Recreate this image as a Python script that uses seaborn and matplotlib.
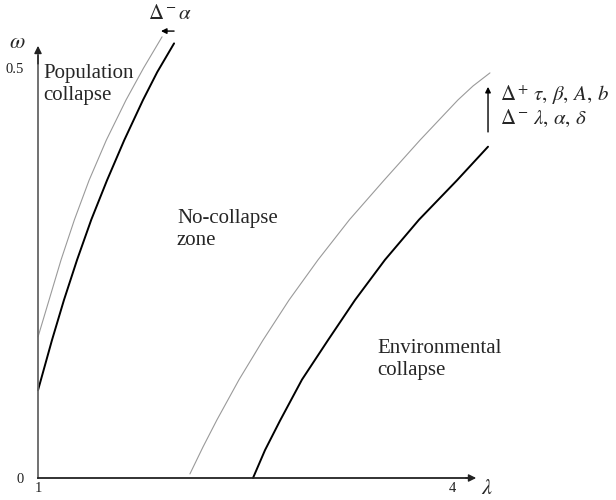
import matplotlib
matplotlib.use("Agg")
import matplotlib.pyplot as plt
import pandas as pd
import seaborn as sns

# Collapse thresholds in the (lambda, omega) plane.
# Shifted curves (thin grey) show where each boundary moves under parameter changes.
pop_shift_lam = [1.0, 1.080, 1.167, 1.264, 1.370, 1.495, 1.638, 1.765, 1.899]
pop_shift_omega = [0.172, 0.217, 0.266, 0.315, 0.363, 0.412, 0.461, 0.500, 0.538]

pop_lam = [1.0, 1.101, 1.188, 1.283, 1.386, 1.500, 1.625, 1.761, 1.864, 1.986]
pop_omega = [0.107, 0.168, 0.217, 0.266, 0.315, 0.363, 0.412, 0.461, 0.495, 0.530]

env_shift_lam = [2.101, 2.196, 2.297, 2.457, 2.630, 2.819, 3.029, 3.257, 3.507,
                 3.768, 4.043, 4.152, 4.275]
env_shift_omega = [0.005, 0.038, 0.071, 0.120, 0.168, 0.217, 0.266, 0.315, 0.363,
                   0.412, 0.461, 0.478, 0.494]

env_lam = [2.558, 2.645, 2.754, 2.913, 3.101, 3.297, 3.514, 3.761, 4.036, 4.261]
env_omega = [0.0, 0.034, 0.070, 0.120, 0.168, 0.217, 0.266, 0.315, 0.363, 0.404]

x_ticks = [1, 4]
x_tick_labels = ["1", "4"]
y_ticks = [0, 0.5]
y_tick_labels = ["0", "0.5"]

sns.set_theme(style="white")
plt.rcParams["font.family"] = ["Liberation Serif", "DejaVu Serif"]
plt.rcParams["mathtext.fontset"] = "stix"

fig = plt.figure(figsize=(6.16, 5.0), dpi=100)
ax = fig.add_axes([0, 0, 1, 1])
ax.set_facecolor("white")

curves = [
    (pop_shift_lam, pop_shift_omega, "#9a9a9a", 0.8),
    (pop_lam, pop_omega, "black", 1.4),
    (env_shift_lam, env_shift_omega, "#9a9a9a", 0.8),
    (env_lam, env_omega, "black", 1.4),
]
for lam, om, col, lw in curves:
    df = pd.DataFrame({"lam": lam, "omega": om})
    line = sns.lineplot(data=df, x="lam", y="omega", ax=ax, color=col, lw=lw,
                        estimator=None, sort=False)
for ln in ax.lines:
    ln.set_solid_joinstyle("round")
    ln.set_antialiased(True)

ax.set_xlim(0.7246, 5.1884)
ax.set_ylim(-0.02683, 0.5829)
ax.set_xlabel("")
ax.set_ylabel("")

# axes drawn through the origin (lambda = 1, omega = 0) with arrow ends
for side in ("top", "right"):
    ax.spines[side].set_visible(False)
ax.spines["left"].set_position(("data", 1))
ax.spines["bottom"].set_position(("data", 0))
ax.spines["left"].set_bounds(0, 0.515)
ax.spines["bottom"].set_bounds(1, 4.12)
ax.spines["left"].set_color("#666666")
ax.spines["bottom"].set_color("#222222")
ax.spines["left"].set_linewidth(1.3)
ax.spines["bottom"].set_linewidth(1.3)

ax.annotate("", xy=(1, 0.527), xytext=(1, 0.505),
            arrowprops=dict(arrowstyle="-|>", color="#222222", lw=1.0,
                            mutation_scale=11, shrinkA=0, shrinkB=0))
ax.annotate("", xy=(4.175, 0), xytext=(4.10, 0),
            arrowprops=dict(arrowstyle="-|>", color="#222222", lw=1.0,
                            mutation_scale=11, shrinkA=0, shrinkB=0))

ax.set_xticks(x_ticks)
ax.set_xticklabels(x_tick_labels)
ax.set_yticks(y_ticks)
ax.set_yticklabels(y_tick_labels)
ax.tick_params(axis="x", direction="in", length=5, width=0.8, colors="#222222",
               labelsize=10.5, pad=3)
ax.tick_params(axis="y", direction="out", length=5, width=0.8, colors="#222222",
               labelsize=10.5, pad=5)
ax.xaxis.get_major_ticks()[0].tick1line.set_visible(False)
ax.yaxis.get_major_ticks()[0].tick1line.set_visible(False)
ax.grid(False)

# axis symbols
ax.text(0.848, 0.530, r"$\omega$", fontsize=16, ha="center", va="center")
ax.text(4.254, -0.0146, r"$\lambda$", fontsize=16, ha="center", va="center")

# region labels
ax.text(1.036, 0.480, "Population\ncollapse", fontsize=15, ha="left", va="center",
        linespacing=1.2)
ax.text(2.007, 0.303, "No-collapse\nzone", fontsize=15, ha="left", va="center",
        linespacing=1.2)
ax.text(3.457, 0.1445, "Environmental\ncollapse", fontsize=15, ha="left", va="center",
        linespacing=1.2)

# parameter-shift annotations
ax.text(1.957, 0.565, r"$\Delta^-\alpha$", fontsize=15, ha="center", va="center")
ax.annotate("", xy=(1.891, 0.545), xytext=(1.986, 0.545),
            arrowprops=dict(arrowstyle="-|>", color="black", lw=1.0,
                            mutation_scale=8, shrinkA=0, shrinkB=0))

ax.annotate("", xy=(4.261, 0.477), xytext=(4.261, 0.422),
            arrowprops=dict(arrowstyle="-|>", color="black", lw=1.0,
                            mutation_scale=8, shrinkA=0, shrinkB=0))
ax.text(4.348, 0.467, r"$\Delta^+\,\tau,\,\beta,\,A,\,b$", fontsize=15,
        ha="left", va="center")
ax.text(4.348, 0.439, r"$\Delta^-\,\lambda,\,\alpha,\,\delta$", fontsize=15,
        ha="left", va="center")

fig.savefig("out.png", dpi=100, facecolor="white")
